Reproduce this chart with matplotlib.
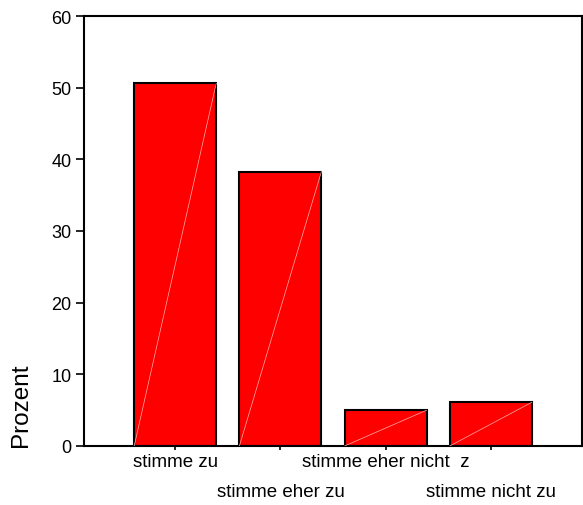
import matplotlib
matplotlib.use("Agg")
import matplotlib.pyplot as plt

categories = ["stimme zu", "stimme eher zu", "stimme eher nicht  z", "stimme nicht zu"]
values = [50.6, 38.3, 5.0, 6.1]
yticks = [0, 10, 20, 30, 40, 50, 60]

plt.rcParams['font.family'] = ['Liberation Sans', 'DejaVu Sans']

fig = plt.figure(figsize=(5.83, 5.06), dpi=100)
ax = fig.add_axes([84/583, 59/506, 498/583, 430/506])

x = list(range(len(categories)))
w = 0.78
ax.bar(x, values, width=w, color='#ff0000', edgecolor='black', linewidth=1.5, zorder=2)
for xi, v in zip(x, values):
    ax.plot([xi - w/2, xi + w/2], [0, v], color='#ffb0b0', lw=0.5, zorder=3)

ax.set_xlim(-0.867, 3.867)
ax.set_ylim(0, 60)
ax.set_yticks(yticks)
ax.set_yticklabels([str(t) for t in yticks], fontsize=13)
ax.set_xticks(x)
ax.set_xticklabels([''] * len(x))
ax.tick_params(axis='y', direction='out', length=6, width=1.2, pad=3)
ax.tick_params(axis='x', direction='out', length=3, width=1.2)
for s in ax.spines.values():
    s.set_linewidth(1.5)

for i, lab in enumerate(categories):
    off = -11.5 if i % 2 == 0 else -33
    ax.annotate(lab, xy=(i, 0), xycoords=('data', 'axes fraction'),
                xytext=(0, off), textcoords='offset points',
                ha='center', va='center', fontsize=13.5)

ax.set_ylabel('Prozent', fontsize=17.5, loc='bottom')
ax.yaxis.set_label_coords(-0.104, 0)

fig.savefig('out.png', dpi=100)
